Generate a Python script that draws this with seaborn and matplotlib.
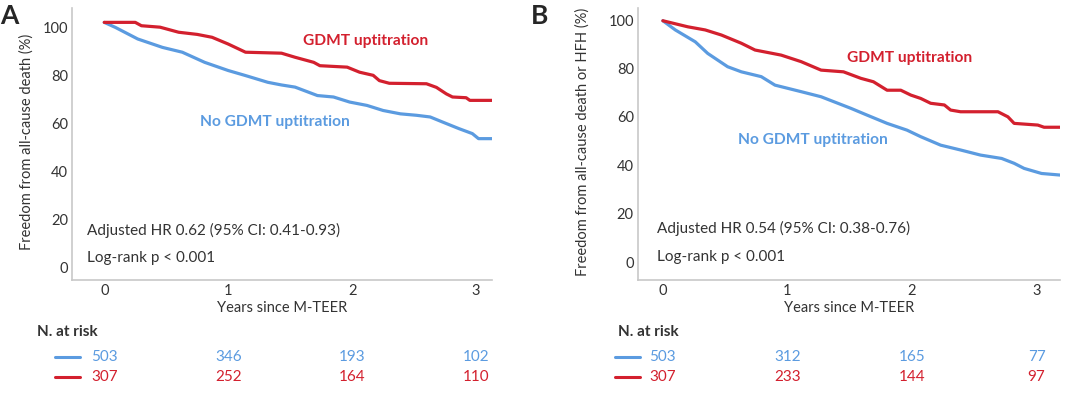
import pandas as pd
import matplotlib.pyplot as plt
import seaborn as sns

# Panel A: freedom from all-cause death
a_t_up = [0, 0.25, 0.3, 0.45, 0.6, 0.75, 0.87, 1.0, 1.14, 1.43, 1.54, 1.69, 1.74, 1.96, 2.06, 2.17, 2.22, 2.3, 2.6, 2.68, 2.76, 2.81, 2.92, 2.95, 3.13]
a_s_up = [102, 102, 100.6, 100, 97.9, 97, 95.8, 93, 89.6, 89.2, 87.5, 85.4, 84, 83.4, 81.3, 80, 77.8, 76.7, 76.5, 75, 72.3, 71, 70.7, 69.6, 69.6]
a_t_no = [0, 0.09, 0.27, 0.47, 0.63, 0.81, 1.0, 1.14, 1.32, 1.43, 1.54, 1.72, 1.85, 1.98, 2.12, 2.25, 2.39, 2.52, 2.63, 2.73, 2.86, 2.97, 3.02, 3.13]
a_s_no = [102, 99.9, 95.1, 91.6, 89.6, 85.4, 82, 79.9, 77.1, 76, 75.1, 71.6, 71, 68.9, 67.5, 65.4, 64, 63.4, 62.7, 60.6, 57.9, 55.8, 53.7, 53.7]

# Panel B: freedom from all-cause death or HFH
b_t_up = [0, 0.2, 0.34, 0.47, 0.63, 0.74, 0.95, 1.11, 1.27, 1.45, 1.59, 1.69, 1.8, 1.91, 1.99, 2.07, 2.15, 2.26, 2.31, 2.39, 2.69, 2.77, 2.82, 3.01, 3.06, 3.2]
b_s_up = [99.7, 97.2, 95.9, 93.8, 90.4, 87.6, 85.5, 82.8, 79.3, 78.6, 75.9, 74.5, 71, 71, 69, 67.6, 65.6, 64.9, 62.8, 62.1, 62.1, 60, 57.3, 56.6, 55.7, 55.7]
b_t_no = [0, 0.1, 0.26, 0.36, 0.52, 0.63, 0.79, 0.9, 1.11, 1.27, 1.51, 1.64, 1.8, 1.96, 2.07, 2.23, 2.39, 2.55, 2.72, 2.82, 2.9, 3.04, 3.2]
b_s_no = [99.7, 95.9, 91, 86.2, 80.7, 78.6, 76.6, 73.1, 70.4, 68.3, 63.5, 60.7, 57.3, 54.5, 51.8, 48.3, 46.3, 44.2, 42.8, 40.8, 38.7, 36.6, 35.9]

# numbers at risk at years 0..3
years = [0, 1, 2, 3]
a_risk_no = [503, 346, 193, 102]
a_risk_up = [307, 252, 164, 110]
b_risk_no = [503, 312, 165, 77]
b_risk_up = [307, 233, 144, 97]

RED = "#d3202e"
BLUE = "#5b9be0"
GREY = "#333333"

sns.set_style("white")
plt.rcParams['font.family'] = ['Lato', 'DejaVu Sans']


def make_df(t_up, s_up, t_no, s_no):
    up = pd.DataFrame({'t': t_up, 's': s_up, 'grp': 'GDMT uptitration'})
    no = pd.DataFrame({'t': t_no, 's': s_no, 'grp': 'No GDMT uptitration'})
    return pd.concat([no, up], ignore_index=True)


fig = plt.figure(figsize=(10.8, 3.96), dpi=100)

panels = [
    dict(rect=[0.0667, 0.293, 0.389, 0.687], df=make_df(a_t_up, a_s_up, a_t_no, a_s_no),
         ylim=(-5, 108), xlim=(-0.26, 3.13), ylabel="Freedom from all-cause death (%)",
         hr="Adjusted HR 0.62 (95% CI: 0.41-0.93)", hr_y=15.7, lr_y=4.1, txt_x=-0.14,
         up_lab=(1.6, 94.4), no_lab=(0.77, 60.5), risk_no=a_risk_no, risk_up=a_risk_up,
         letter="A", letter_x=0.0, ylab_x=0.025, risk_x=0.034, dash=(0.051, 0.074)),
    dict(rect=[0.5907, 0.293, 0.391, 0.687], df=make_df(b_t_up, b_s_up, b_t_no, b_s_no),
         ylim=(-7.4, 105), xlim=(-0.2, 3.19), ylabel="Freedom from all-cause death or HFH (%)",
         hr="Adjusted HR 0.54 (95% CI: 0.38-0.76)", hr_y=14, lr_y=2, txt_x=-0.05,
         up_lab=(1.48, 84.5), no_lab=(0.6, 50.4), risk_no=b_risk_no, risk_up=b_risk_up,
         letter="B", letter_x=0.492, ylab_x=0.539, risk_x=0.572, dash=(0.569, 0.593)),
]

for p in panels:
    ax = fig.add_axes(p['rect'])
    sns.lineplot(data=p['df'], x='t', y='s', hue='grp', ax=ax,
                 palette={'GDMT uptitration': RED, 'No GDMT uptitration': BLUE},
                 linewidth=2.3, legend=False, estimator=None)
    ax.set_xlim(*p['xlim'])
    ax.set_ylim(*p['ylim'])
    ax.set_xticks(years)
    ax.set_yticks([0, 20, 40, 60, 80, 100])
    ax.tick_params(length=0, labelsize=10.5, colors=GREY, pad=3)
    ax.set_xlabel("")
    ax.set_ylabel("")
    for s in ['top', 'right']:
        ax.spines[s].set_visible(False)
    for s in ['left', 'bottom']:
        ax.spines[s].set_color("#c8c8c8")
        ax.spines[s].set_linewidth(1.2)

    ax.text(p['up_lab'][0], p['up_lab'][1], "GDMT uptitration", color=RED, fontsize=11.2,
            fontweight='bold', va='center')
    ax.text(p['no_lab'][0], p['no_lab'][1], "No GDMT uptitration", color=BLUE, fontsize=11.2,
            fontweight='bold', va='center')
    ax.text(p['txt_x'], p['hr_y'], p['hr'], color=GREY, fontsize=11, va='center')
    ax.text(p['txt_x'], p['lr_y'], "Log-rank p < 0.001", color=GREY, fontsize=11, va='center')

    # axis label and panel letter
    fig.text(p['ylab_x'], 0.642, p['ylabel'], rotation=90, fontsize=10.5, color=GREY,
             ha='center', va='center')
    fig.text(p['letter_x'], 0.99, p['letter'], fontsize=19, fontweight='bold', va='top')
    x_mid = fig.transFigure.inverted().transform(ax.transAxes.transform((0.5, 0)))[0]
    fig.text(x_mid, 1 - 308 / 396, "Years since M-TEER", ha='center', va='center',
             fontsize=10.5, color=GREY)

    # numbers at risk table
    fig.text(p['risk_x'], 1 - 332 / 396, "N. at risk", fontsize=11, fontweight='bold',
             color=GREY, va='center')
    for vals, col, yy in [(p['risk_no'], BLUE, 1 - 357 / 396), (p['risk_up'], RED, 1 - 377 / 396)]:
        fig.add_artist(plt.Line2D(p['dash'], [yy, yy], color=col, linewidth=2.2))
        for yr, v in zip(years, vals):
            x_fig = fig.transFigure.inverted().transform(ax.transData.transform((yr, 0)))[0]
            fig.text(x_fig, yy, str(v), color=col, fontsize=11, ha='center', va='center')

fig.savefig("out.png", dpi=100)
